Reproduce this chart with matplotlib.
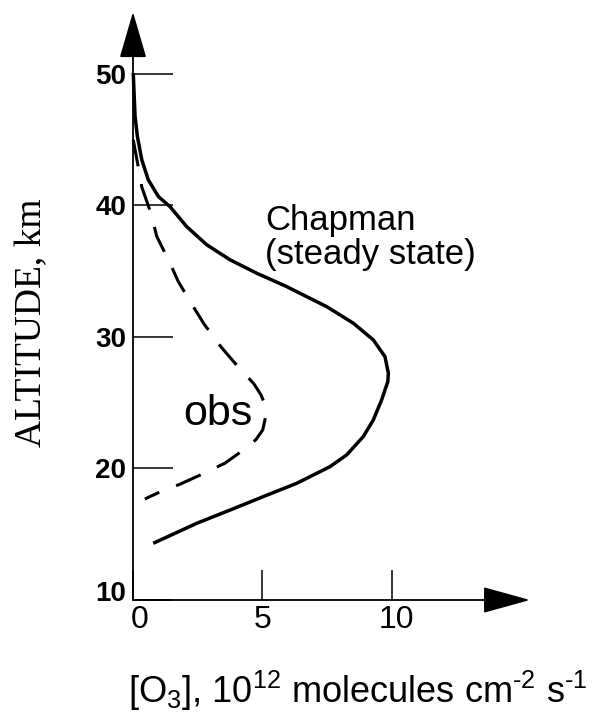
import matplotlib
matplotlib.use("Agg")
import matplotlib.pyplot as plt
import matplotlib.transforms as mtransforms

# ---- data ----
chapman_x = [0.01, 0.08, 0.17, 0.34, 0.59, 0.98, 1.43, 2.07, 2.85, 3.75, 4.78, 5.93,
             6.19, 7.48, 8.51, 9.28, 9.73, 9.86, 9.84, 9.60, 9.28, 8.89, 8.25, 7.61,
             6.32, 5.03, 3.75, 2.46, 0.78]
chapman_alt = [50.05, 46.75, 45.23, 43.46, 41.94, 40.67, 39.9, 38.39, 37.0, 35.86, 34.84, 33.83,
               33.57, 32.3, 31.04, 29.77, 28.5, 27.24, 26.6, 25.21, 23.69, 22.42, 21.03, 20.14,
               18.87, 17.86, 16.84, 15.83, 14.31]
obs_x = [0.01, 0.20, 0.34, 0.68, 0.92, 1.40, 1.75, 2.31, 2.74, 3.39, 3.94, 4.67,
         4.94, 5.10, 5.12, 5.01, 4.75, 4.41, 3.55, 2.74, 1.81, 0.98, 0.46]
obs_alt = [44.98, 42.95, 41.39, 39.47, 37.63, 35.73, 34.2, 32.36, 30.99, 29.26, 28.0, 26.43,
           25.6, 24.83, 23.92, 22.93, 22.2, 21.61, 20.4, 19.63, 18.8, 18.16, 17.68]
x_ticks = [0, 5, 10]
x_tick_labels = ["0", "5", "10"]
y_ticks = [10, 20, 30, 40, 50]
y_tick_labels = ["10", "20", "30", "40", "50"]

plt.rcParams['font.family'] = ['Liberation Sans', 'DejaVu Sans']
plt.rcParams['mathtext.fontset'] = 'custom'
plt.rcParams['mathtext.rm'] = 'Liberation Sans'
plt.rcParams['mathtext.it'] = 'Liberation Sans:italic'
plt.rcParams['mathtext.bf'] = 'Liberation Sans:bold'

W, H = 594, 713
fig = plt.figure(figsize=(W / 100, H / 100), dpi=100)
ax = fig.add_axes([133 / W, (H - 600) / H, 397 / W, 588 / H])
XMAX, YMAX = 15.33, 54.7
ax.set_xlim(0, XMAX)
ax.set_ylim(10, YMAX)
for s in ax.spines.values():
    s.set_visible(False)

# axes with arrowheads
ax.annotate('', xy=(0, YMAX), xytext=(0, 10), xycoords='data',
            arrowprops=dict(arrowstyle='-|>,head_length=29.5,head_width=8.6',
                            mutation_scale=1, lw=1.3, color='black',
                            shrinkA=0, shrinkB=0), annotation_clip=False)
ax.annotate('', xy=(XMAX, 10), xytext=(0, 10), xycoords='data',
            arrowprops=dict(arrowstyle='-|>,head_length=30,head_width=8.3',
                            mutation_scale=1, lw=1.3, color='black',
                            shrinkA=0, shrinkB=0), annotation_clip=False)

# ticks
ax.set_yticks(y_ticks)
ax.set_yticklabels(y_tick_labels, fontsize=20, fontweight='bold')
ax.set_xticks(x_ticks)
ax.set_xticklabels(x_tick_labels, fontsize=23)
ax.tick_params(axis='y', direction='in', length=28.8, width=1.1, pad=5.0, color='black')
ax.tick_params(axis='x', direction='in', length=21.6, width=1.1, pad=3.5, color='black')

# small offsets of some tick labels as in the reference
off = mtransforms.ScaledTranslation(0, 9 / 100, fig.dpi_scale_trans)
lab = ax.get_yticklabels()[0]
lab.set_transform(lab.get_transform() + off)
for lbl, dx in zip(ax.get_xticklabels(), [7, 0, 4]):
    lbl.set_transform(lbl.get_transform() +
                      mtransforms.ScaledTranslation(dx / 100, 0, fig.dpi_scale_trans))

# curves
ax.plot(chapman_x, chapman_alt, color='black', lw=2.5, solid_joinstyle='round',
        solid_capstyle='butt', clip_on=False)
ax.plot(obs_x, obs_alt, color='black', lw=2.2, linestyle=(0, (8.8, 5.9)),
        dash_capstyle='butt', dash_joinstyle='round', clip_on=False)

# annotations
ax.text(5.10, 38.14, 'Chapman', fontsize=25, ha='left', va='baseline')
ax.text(5.10, 35.55, '(steady state)', fontsize=25, ha='left', va='baseline')
ax.text(1.94, 23.3, 'obs', fontsize=31, ha='left', va='baseline')

# axis titles
fig.text(32 / W, 1 - 323 / H, 'ALTITUDE, km', rotation=90, ha='center', va='center',
         fontsize=27, family=['Liberation Serif', 'DejaVu Serif'])
fig.text(357.5 / W, (H - 703) / H,
         r'[O$_3$], 10$^{12}$ molecules cm$^{\text{-}2}$ s$^{\text{-}1}$',
         ha='center', va='baseline', fontsize=26)

fig.savefig('out.png', dpi=100)
